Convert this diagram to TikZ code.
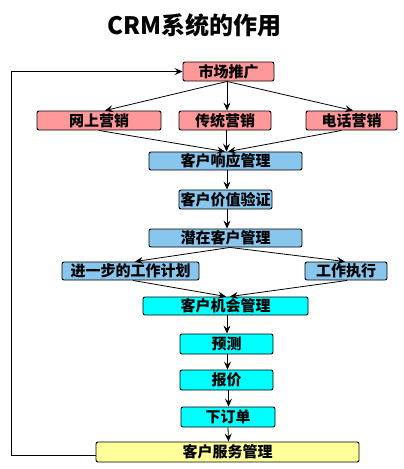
\documentclass[tikz,border=0pt]{standalone}
\usepackage{fontspec}
\newfontfamily\cjk{Noto Sans CJK SC}
\usetikzlibrary{arrows.meta}
\definecolor{pinkf}{HTML}{FF9999}
\definecolor{bluef}{HTML}{88C6EE}
\definecolor{cyanf}{HTML}{00FFFF}
\definecolor{yelf}{HTML}{FFFF99}
\tikzset{
  box/.style={draw=black, line width=0.9pt, rounded corners=2pt, inner sep=0pt,
    font=\cjk\bfseries\fontsize{15}{15}\selectfont, minimum height=19pt},
  conn/.style={line width=0.8pt, -{Stealth[length=8pt,width=7pt,inset=3pt]}},
}
\begin{document}
\begin{tikzpicture}[x=1pt,y=-1pt]
\useasboundingbox (0,0) rectangle (404,469);
\node (title) at (194.5,25) {\cjk\bfseries\fontsize{24}{24}\selectfont CRM系统的作用};
\node[box, fill=pinkf, minimum width=91pt] (sctg) at (228.5,71.5) {市场推广};
\node[box, fill=pinkf, minimum width=124pt] (wsyx) at (99,120.5) {网上营销};
\node[box, fill=pinkf, minimum width=92pt] (ctyx) at (225,120.5) {传统营销};
\node[box, fill=pinkf, minimum width=91pt] (dhyx) at (351.5,120.5) {电话营销};
\node[box, fill=bluef, minimum width=153pt, minimum height=18pt] (xygl) at (225.5,161) {客户响应管理};
\node[box, fill=bluef, minimum width=93pt] (jzyz) at (225.5,199.5) {客户价值验证};
\node[box, fill=bluef, minimum width=153pt, minimum height=18pt] (qzgl) at (225.5,238) {潜在客户管理};
\node[box, fill=bluef, minimum width=137pt, minimum height=18pt] (jh) at (130.5,271) {进一步的工作计划};
\node[box, fill=bluef, minimum width=82pt, minimum height=18pt] (zx) at (346,271) {工作执行};
\node[box, fill=cyanf, minimum width=165pt, minimum height=18pt] (jhgl) at (225.5,306) {客户机会管理};
\node[box, fill=cyanf, minimum width=93pt, minimum height=20pt] (yc) at (226.5,344) {预测};
\node[box, fill=cyanf, minimum width=93pt, minimum height=20pt] (bj) at (226.5,380) {报价};
\node[box, fill=cyanf, minimum width=94pt, minimum height=20pt] (xdd) at (228,417) {下订单};
\node[box, fill=yelf, minimum width=263pt, minimum height=20pt] (fwgl) at (227.5,452) {客户服务管理};
% arrows
\draw[conn] ([xshift=-1.5pt]sctg.south) -- ([xshift=6pt]wsyx.north);
\draw[conn] ([xshift=-1.5pt]sctg.south) -- ([xshift=2pt]ctyx.north);
\draw[conn] ([xshift=-1.5pt]sctg.south) -- ([xshift=1.5pt]dhyx.north);
\draw[conn] (wsyx.south) -- ([xshift=-0.5pt]xygl.north);
\draw[conn] ([xshift=1.5pt]ctyx.south) -- ([xshift=1pt]xygl.north);
\draw[conn] ([xshift=-10pt]dhyx.south) -- ([xshift=2.5pt]xygl.north);
\draw[conn] ([xshift=1.5pt]xygl.south) -- ([xshift=1.5pt]jzyz.north);
\draw[conn] ([xshift=1.5pt]jzyz.south) -- ([xshift=1.5pt]qzgl.north);
\draw[conn] ([xshift=4.5pt]qzgl.south) -- ([xshift=4.5pt]jh.north);
\draw[conn] ([xshift=4.5pt]qzgl.south) -- ([xshift=-1pt]zx.north);
\draw[conn] ([xshift=2.5pt]jh.south) -- ([xshift=0.5pt]jhgl.north);
\draw[conn] ([xshift=1pt]zx.south) -- ([xshift=4.5pt]jhgl.north);
\draw[conn] ([xshift=1.5pt]jhgl.south) -- ([xshift=0.5pt]yc.north);
\draw[conn] ([xshift=1pt]yc.south) -- ([xshift=1pt]bj.north);
\draw[conn] ([xshift=2pt]bj.south) -- ([xshift=0.5pt]xdd.north);
\draw[conn] ([xshift=0pt]xdd.south) -- ([xshift=1pt]fwgl.north);
\draw[conn] ([yshift=-3pt]fwgl.west) -- ++(-84,0) |- (sctg.west);
\end{tikzpicture}
\end{document}
